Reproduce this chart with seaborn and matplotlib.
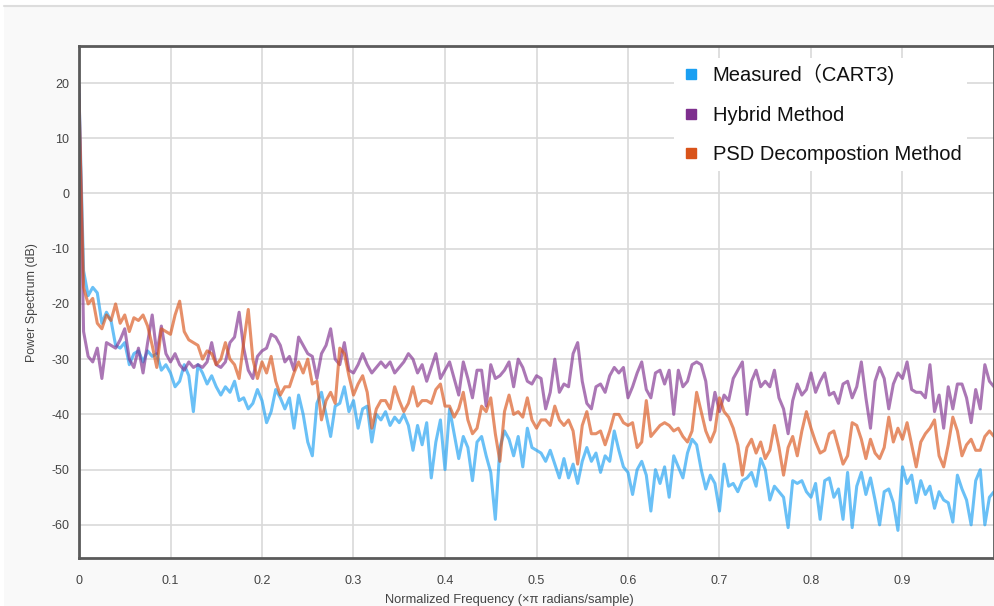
import numpy as np
import pandas as pd
import matplotlib
matplotlib.use("Agg")
import matplotlib.pyplot as plt
from matplotlib.lines import Line2D
from matplotlib.patches import Rectangle
import seaborn as sns

# Power spectra (dB), sampled every 0.005 of normalized frequency, 0 .. 1
measured = [
    18, -14, -18.5, -17, -18, -23.5, -21.5, -23, -27.5, -28,
    -27, -31, -29, -28.5, -30.5, -28.5, -29.5, -29, -32, -31,
    -32.5, -35, -34, -31, -33, -39.5, -31, -32.5, -34.5, -33,
    -35, -36.5, -35, -36, -34, -37.5, -37, -39, -38, -35.5,
    -37.5, -41.5, -39.5, -35.5, -37, -39, -37, -42.5, -36.5, -40,
    -45, -47.5, -38, -36, -40, -44, -38.5, -38, -35, -39.5,
    -37.5, -42.5, -39, -38.5, -45, -40, -41, -39.5, -42, -40.5,
    -41.5, -40, -42, -46.5, -42, -45.5, -41.5, -51.5, -45, -41,
    -50, -39, -43.5, -48, -44, -46, -52, -45, -44, -47.5,
    -50.5, -59, -46, -43, -44.5, -47.5, -44, -49.5, -42.5, -46,
    -46.5, -47, -48.5, -46.5, -49, -51.5, -48, -51.5, -49, -52.5,
    -48.5, -46, -48.5, -47, -50.5, -47.5, -48.5, -43, -46.5, -49.5,
    -50.5, -54.5, -50, -48.5, -51, -57.5, -50, -52.5, -49.5, -55,
    -47.5, -49.5, -51.5, -47, -44.5, -45.5, -50, -53.5, -51, -52.5,
    -57.5, -49, -53, -52.5, -54, -52, -51.5, -50.5, -53, -48,
    -50, -55.5, -53, -54, -55, -60.5, -52, -52.5, -52, -54,
    -55, -52.5, -59, -52, -51.5, -55, -53.5, -59, -50.5, -60.5,
    -53, -50.5, -54.5, -51.5, -55.5, -60, -54, -53.5, -56, -61,
    -49.5, -52.5, -51, -56, -52, -54.5, -53, -57, -54, -55.5,
    -56, -59.5, -51, -53.5, -55.5, -60, -52, -50, -60, -55,
    -54,
]

hybrid = [
    19.5, -25, -29.5, -30.5, -28, -33.5, -27, -27.5, -28, -26.5,
    -24.5, -30, -31.5, -28, -32.5, -27, -22, -29, -24, -29,
    -30.5, -29, -31, -32, -30.5, -31.5, -31, -31.5, -30.5, -27,
    -31, -31.5, -30.5, -27, -26, -21.5, -28, -32, -33.5, -29.5,
    -28.5, -28, -25.5, -26, -27.5, -30.5, -29.5, -32, -26, -27.5,
    -29, -29.5, -33.5, -29, -27.5, -24.5, -30, -31, -27, -32,
    -32.5, -31, -29, -31, -32.5, -31.5, -30.5, -31.5, -30.5, -32.5,
    -31.5, -30.5, -29, -30, -32.5, -31, -34, -31.5, -29, -33.5,
    -32, -30.5, -33.5, -36.5, -30.5, -33.5, -37, -32, -32, -38.5,
    -31, -33.5, -33, -32, -30.5, -35, -30, -31.5, -34, -34.5,
    -33, -33.5, -39, -36, -30, -36, -34.5, -35, -29, -27,
    -34, -38, -39, -35, -34.5, -36, -33, -31.5, -32.5, -31.5,
    -37, -35, -32.5, -30.5, -35.5, -37, -32.5, -32, -34.5, -32,
    -40, -32, -35, -34, -31, -30.5, -31, -34, -41, -36,
    -39.5, -36.5, -37.5, -33.5, -32, -30.5, -40, -34, -32, -35,
    -34, -35, -32, -37, -39, -43.5, -37.5, -34.5, -36.5, -35.5,
    -32.5, -36, -34, -32.5, -36.5, -36, -38, -34.5, -34, -37,
    -35, -30.5, -37, -42.5, -34, -31.5, -33.5, -39, -34.5, -32.5,
    -33.5, -30.5, -35.5, -36, -36, -37, -31, -39.5, -36.5, -42.5,
    -35, -39, -34.5, -34.5, -37, -41.5, -35.5, -39, -31, -34,
    -35,
]

psd_decomp = [
    17, -17, -20, -19, -23.5, -24.5, -22, -23, -20, -23.5,
    -22, -25, -22.5, -23, -22, -24, -27.5, -31.5, -24.5, -25,
    -25.5, -22, -19.5, -25, -26.5, -27, -27.5, -30, -28.5, -29,
    -31, -30, -27, -30, -31, -33.5, -27, -21, -30, -33.5,
    -30.5, -32.5, -29.5, -34, -36.5, -35, -35, -32.5, -30.5, -32.5,
    -30, -34.5, -34, -41, -37.5, -36, -38, -28, -29, -33,
    -36.5, -34.5, -33, -36, -42.5, -39, -37.5, -37.5, -39, -35,
    -37.5, -39.5, -38, -35, -38.5, -37.5, -37.5, -38, -35.5, -34.5,
    -38.5, -38.5, -40.5, -39, -36, -41, -43.5, -42.5, -38.5, -39.5,
    -37, -43.5, -48.5, -39.5, -36.5, -40, -39.5, -40.5, -37, -41,
    -42.5, -41, -41, -42, -38.5, -41, -42, -41, -43, -49,
    -42, -39.5, -43.5, -43.5, -43, -45.5, -43, -40, -40, -41.5,
    -42, -41.5, -46, -45, -37.5, -44, -43, -42, -41.5, -42,
    -43, -42.5, -44, -45, -43, -36, -39.5, -43, -45, -43,
    -37, -39.5, -40.5, -42.5, -45.5, -51, -46, -44.5, -47, -45,
    -48, -46.5, -42, -46, -51, -46, -44, -47.5, -43, -39.5,
    -42.5, -45, -47, -46.5, -43.5, -43, -46, -49, -47.5, -41.5,
    -42, -44.5, -48, -44.5, -47, -48, -46, -40.5, -45, -42.5,
    -44.5, -41.5, -45.5, -49.5, -45, -43.5, -42.5, -41, -47.5, -49.5,
    -45.5, -40.5, -43, -47.5, -45.5, -44.5, -46.5, -46.5, -44, -43,
    -44,
]

series_names = ["Measured\uff08CART3)", "Hybrid Method", "PSD Decompostion Method"]
series_colors = ["#1a9ff2", "#7e2f8e", "#d95319"]
x_ticks = [0, 0.1, 0.2, 0.3, 0.4, 0.5, 0.6, 0.7, 0.8, 0.9]
y_ticks = [-60, -50, -40, -30, -20, -10, 0, 10, 20]

frames = []
for name, vals in zip(series_names, [measured, hybrid, psd_decomp]):
    freq = np.arange(len(vals)) * 0.005
    frames.append(pd.DataFrame({"freq": freq, "power": vals, "series": name}))
df = pd.concat(frames, ignore_index=True)

sns.set_theme(style="white")
plt.rcParams["font.family"] = ["Liberation Sans", "Noto Sans CJK SC", "DejaVu Sans"]

W, H = 995, 606
fig = plt.figure(figsize=(W / 100, H / 100), dpi=100, facecolor="white")

# light panel background with a thin rule along its top
fig.add_artist(Rectangle((4 / W, 0), 1 - 4 / W, 1 - 6 / H, transform=fig.transFigure,
                         facecolor="#f9f9f9", edgecolor="none", zorder=-10))
fig.add_artist(Line2D([4 / W, 1], [1 - 6 / H, 1 - 6 / H], transform=fig.transFigure,
                      color="#dddddd", lw=1.5, zorder=-9))

left, right, top, bottom = 79, 994, 46, 558
ax = fig.add_axes([left / W, 1 - bottom / H, (right - left) / W, (bottom - top) / H])
ax.set_facecolor("white")

sns.lineplot(data=df, x="freq", y="power", hue="series", hue_order=series_names,
             palette=dict(zip(series_names, series_colors)), estimator=None, sort=False,
             linewidth=2.2, alpha=0.65, ax=ax, legend=False)

ax.set_xlim(0, 1.0)
ax.set_ylim(-66, 26.7)
ax.set_xticks(x_ticks)
ax.set_xticklabels([f"{t:g}" for t in x_ticks])
ax.set_yticks(y_ticks)
ax.set_yticklabels([f"{t:d}" for t in y_ticks])

ax.grid(True, color="#d9d9d9", linewidth=1.2)
ax.set_axisbelow(True)
for sp in ax.spines.values():
    sp.set_visible(True)
    sp.set_color("#5a5a5a")
    sp.set_linewidth(2.0)

tick_font = ["Liberation Sans", "DejaVu Sans"]
ax.tick_params(axis="both", direction="out", length=3, width=1, color="#444444",
               labelcolor="#444444", labelsize=9)
ax.tick_params(axis="x", pad=9)
ax.tick_params(axis="y", pad=4)
for lab in ax.get_xticklabels() + ax.get_yticklabels():
    lab.set_family(tick_font)

ax.set_xlabel("Normalized Frequency (\u00d7\u03c0 radians/sample)", fontsize=9.3,
              color="#444444", family=tick_font)
ax.set_ylabel("Power Spectrum (dB)", fontsize=8.9, color="#444444", family=tick_font)
ax.xaxis.set_label_coords(0.47, -0.07)
ax.yaxis.set_label_coords(-0.045, 0.498)

handles = [Line2D([], [], marker="s", linestyle="", color=c, markersize=7)
           for c in series_colors]
leg = ax.legend(handles, series_names, loc="upper right", bbox_to_anchor=(0.982, 0.996),
                frameon=True, facecolor="white", edgecolor="none", framealpha=1.0,
                fancybox=False, handlelength=1.0, handletextpad=0.6,
                labelspacing=1.02, borderpad=0.3,
                prop={"family": ["Liberation Sans", "Noto Sans CJK SC"], "size": 14.5})
for t in leg.get_texts():
    t.set_color("#111111")

fig.savefig("out.png", dpi=100, facecolor=fig.get_facecolor())
